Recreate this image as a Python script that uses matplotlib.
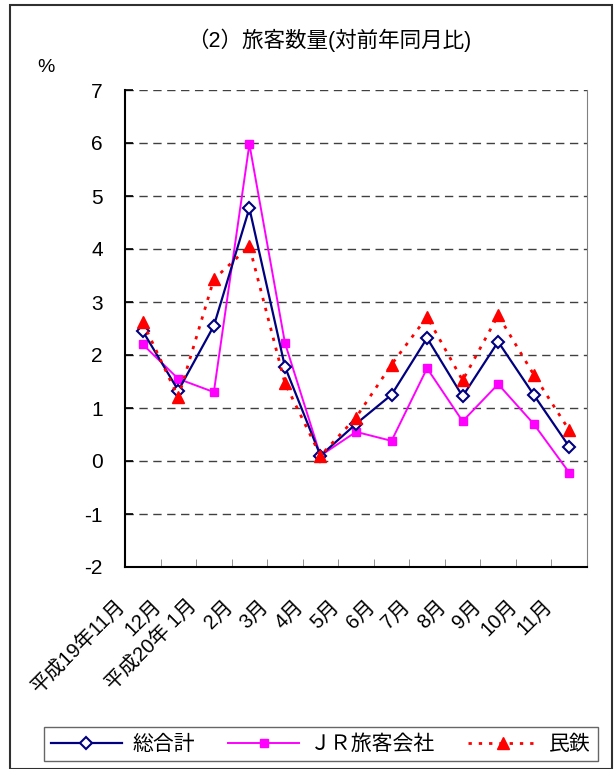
import matplotlib
matplotlib.use("Agg")
import matplotlib.pyplot as plt
from matplotlib.patches import Rectangle
from matplotlib.transforms import ScaledTranslation
import numpy as np

plt.rcParams['font.family'] = ['Liberation Sans', 'Noto Sans CJK JP', 'DejaVu Sans']

categories = ['平成19年11月', '12月', '平成20年 1月', '2月', '3月', '4月', '5月',
              '6月', '7月', '8月', '9月', '10月', '11月']
total = [2.45, 1.33, 2.55, 4.77, 1.78, 0.10, 0.70, 1.25, 2.32, 1.22, 2.25, 1.25, 0.27]
jr = [2.20, 1.55, 1.30, 5.98, 2.23, 0.10, 0.55, 0.38, 1.75, 0.75, 1.45, 0.70, -0.22]
private = [2.62, 1.20, 3.43, 4.05, 1.47, 0.10, 0.82, 1.82, 2.72, 1.52, 2.75, 1.63, 0.58]
series_names = ['総合計', 'ＪＲ旅客会社', '民鉄']
yticks = list(range(-2, 8))

W, H = 615, 769
fig = plt.figure(figsize=(W / 100, H / 100), dpi=100)
ax = fig.add_axes([125 / W, 1 - 567 / H, (587 - 125) / W, (567 - 90) / H])

x = np.arange(len(categories))
ax.plot(x, total, color='#000080', lw=1.6, marker='D', ms=6, mfc='white',
        mec='#000080', mew=1.5, label=series_names[0], zorder=4)
ax.plot(x, jr, color='#FF00FF', lw=1.4, marker='s', ms=6, mfc='#FF00FF',
        mec='#FF00FF', label=series_names[1], zorder=3)
ax.plot(x, private, color='#FF0000', lw=2, ls=(0, (1.2, 2.5)), marker='^', ms=8,
        mfc='#FF0000', mec='#FF0000', label=series_names[2], zorder=5)

ax.set_xlim(-0.5, len(categories) - 0.5)
ax.set_ylim(-2, 7)
ax.set_yticks(yticks)
ax.set_yticklabels([str(v) for v in yticks], fontsize=15)
ax.tick_params(axis='y', direction='in', length=6, width=1.2, color='black', pad=16)
for v in yticks[1:]:
    ax.axhline(v, color='#404040', lw=1.0, ls=(0, (6, 4)), zorder=1)

ax.set_xticks(x)
ax.set_xticklabels(categories, fontsize=14.5, rotation=45, ha='right', va='center',
                   rotation_mode='anchor')
ax.tick_params(axis='x', length=0, pad=26)
shift = ScaledTranslation(-0.2, 0, fig.dpi_scale_trans)
for lab in ax.get_xticklabels():
    lab.set_transform(lab.get_transform() + shift)
ax.set_xticks(np.arange(-0.5, len(categories), 1), minor=True)
ax.tick_params(axis='x', which='minor', direction='in', length=6, color='#808080')

ax.spines['top'].set_visible(False)
ax.spines['right'].set_color('#808080')
ax.spines['left'].set_color('black')
ax.spines['bottom'].set_color('black')
ax.spines['left'].set_linewidth(1.5)
ax.spines['bottom'].set_linewidth(1.5)

fig.text(329 / W, 1 - 40 / H, '（2）旅客数量(対前年同月比)', ha='center', va='center', fontsize=15.5)
fig.text(46 / W, 1 - 67 / H, '%', ha='center', va='center', fontsize=14)

leg = fig.legend(loc='center', bbox_to_anchor=((41 + 601) / 2 / W, 1 - 744 / H),
                 ncol=3, fontsize=15, handlelength=3.4, frameon=True, fancybox=False,
                 edgecolor='#404040', columnspacing=1.6, borderpad=0.35, handletextpad=0.5)
leg.get_frame().set_linewidth(1.0)

fig.patches.append(Rectangle((10 / W, 0.5 / H), 602 / W, (H - 5) / H, transform=fig.transFigure,
                             fill=False, edgecolor='#303030', lw=1.5))

fig.savefig('out.png', dpi=100)
